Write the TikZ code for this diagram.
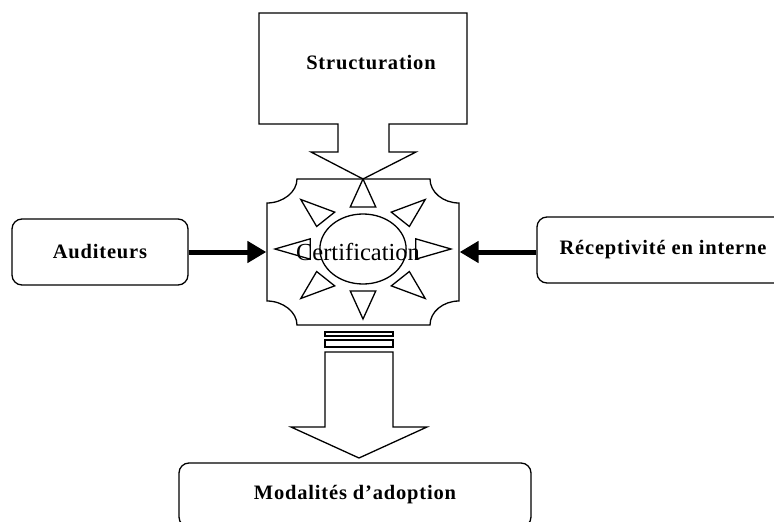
\documentclass[tikz,border=0pt]{standalone}
\usepackage{fontspec}
\setmainfont{Liberation Serif}
\newfontfamily\lblfont{Liberation Serif}[LetterSpace=4]
\usetikzlibrary{arrows.meta}
\begin{document}
\begin{tikzpicture}[x=1pt,y=-1pt,line width=1.3pt,
    lbl/.style={font=\lblfont\bfseries\fontsize{20.5}{24}\selectfont},
    box/.style={draw, rounded corners=10pt, lbl},
    feed/.style={line width=5pt,-{Triangle[length=19pt,width=21pt]}}]
  \clip (0,0) rectangle (774,522);
  % callout from the top
  \draw (259,13) -- (467,13) -- (467,124) -- (389,124) -- (389,152) -- (416,152)
    -- (363,179) -- (311,152) -- (338,152) -- (338,124) -- (259,124) -- cycle;
  \node[lbl] (struct) at (371,63) {Structuration};
  % plaque with the sun
  \draw (297,179) -- (430,179) .. controls (430,192) and (443,203) .. (459,203)
    -- (459,301) .. controls (443,301) and (430,312) .. (430,325)
    -- (297,325) .. controls (297,312) and (283,301) .. (267,301)
    -- (267,203) .. controls (283,203) and (297,192) .. (297,179) -- cycle;
  \begin{scope}[shift={(363,249)},xscale=88,yscale=70]
    \draw (0,0) ellipse (0.49 and 0.5);
    \foreach \a in {0,45,...,315}
      \draw[rotate=\a] (1,0) -- (0.6,0.145) -- (0.6,-0.145) -- cycle;
  \end{scope}
  \node[minimum width=192pt, minimum height=146pt, inner sep=0pt,
    font=\fontsize{24.5}{28}\selectfont] (cert) at (363,252) {Certification\hspace*{10pt}};
  % side boxes
  \node[box, minimum width=176pt, minimum height=66pt] (aud) at (100,252) {Auditeurs};
  \node[box, minimum width=252pt, minimum height=66pt] (rec) at (663,250) {Réceptivité en interne};
  \draw[feed] (aud) -- (cert.west);
  \draw[feed] (rec.west |- cert) -- (cert.east);
  % output arrow
  \draw (325,332) rectangle (393,336);
  \draw (325,340) rectangle (393,347);
  \draw (325,352) -- (393,352) -- (393,427) -- (427,427) -- (359,458)
    -- (291,427) -- (325,427) -- cycle;
  \node[box, minimum width=352pt, minimum height=64pt] (mod) at (355,495) {Modalités d’adoption};
\end{tikzpicture}
\end{document}
